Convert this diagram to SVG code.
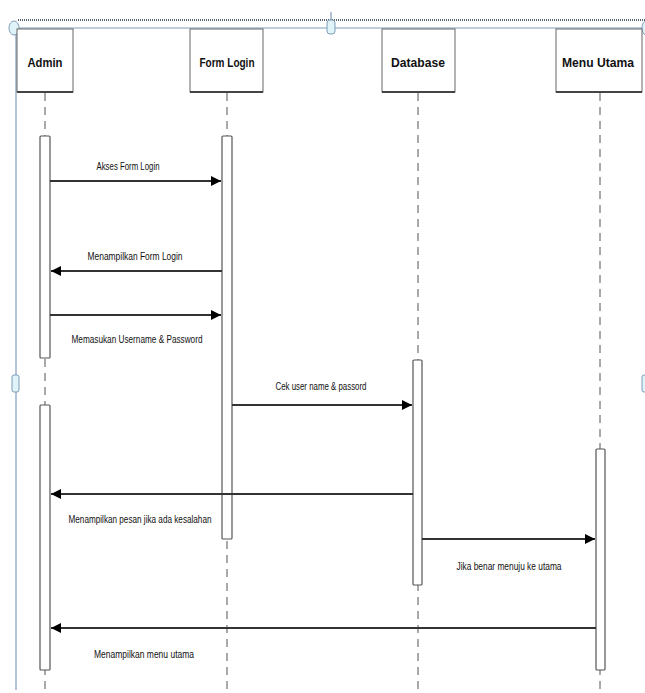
<svg xmlns="http://www.w3.org/2000/svg" width="645" height="693" viewBox="0 0 645 693">
<style>
.hdr{fill:#fff;stroke:#666;stroke-width:1}
.hsh{stroke:#444;stroke-width:2}
.ht{font-family:"Liberation Sans",Arial,sans-serif;font-weight:bold;font-size:13px;fill:#111;text-anchor:middle}
.life{stroke:#555;stroke-width:1;stroke-dasharray:8 6;fill:none}
.act{fill:#fff;stroke:#555;stroke-width:1.2}
.msg{stroke:#333;stroke-width:2;fill:none}
.lbl{font-family:"Liberation Sans",Arial,sans-serif;font-size:10px;fill:#111;text-anchor:middle}
.frame{stroke:#7f9db9;stroke-width:1.2;fill:none}
.handle{fill:#dff3f8;stroke:#7f9db9;stroke-width:1}
</style>
<defs>
<marker id="ah" viewBox="0 0 10 10" refX="10" refY="5" markerWidth="5" markerHeight="5" orient="auto-start-reverse" markerUnits="strokeWidth">
<path d="M0,0 L10,5 L0,10 Z" fill="#000"/>
</marker>
</defs>
<rect width="645" height="693" fill="#fff"/>
<g id="frame">
<line class="frame" x1="16" y1="28" x2="645" y2="28"/>
<line x1="18" y1="20" x2="645" y2="20" stroke="#5a6470" stroke-width="2" stroke-dasharray="1 1"/>
<line class="frame" x1="16" y1="28" x2="16" y2="690"/>
<line class="frame" x1="331" y1="12" x2="331" y2="22"/>
<ellipse class="handle" cx="14" cy="28" rx="5" ry="7"/>
<rect class="handle" x="327" y="20" width="8" height="14" rx="3"/>
<ellipse class="handle" cx="646" cy="28" rx="4" ry="7"/>
<rect class="handle" x="12" y="375" width="7" height="17" rx="2"/>
<rect class="handle" x="642" y="375" width="6" height="17" rx="2"/>
</g>
<g id="admin">
<line class="life" x1="45" y1="93" x2="45" y2="690"/>
<rect class="hdr" x="17" y="29" width="56" height="63"/>
<line class="hsh" x1="17" y1="92" x2="73" y2="92"/>
<text class="ht" x="45" y="67" textLength="35" lengthAdjust="spacingAndGlyphs">Admin</text>
<rect class="act" x="40" y="136" width="10" height="222" rx="1"/>
<rect class="act" x="40" y="405" width="10" height="265" rx="1"/>
</g>
<g id="formlogin">
<line class="life" x1="227" y1="93" x2="227" y2="690"/>
<rect class="hdr" x="190" y="29" width="73" height="63"/>
<line class="hsh" x1="190" y1="92" x2="263" y2="92"/>
<text class="ht" x="227" y="67" textLength="55" lengthAdjust="spacingAndGlyphs">Form Login</text>
<rect class="act" x="222" y="136" width="10" height="403" rx="1"/>
</g>
<g id="database">
<line class="life" x1="418" y1="93" x2="418" y2="690"/>
<rect class="hdr" x="382" y="29" width="73" height="63"/>
<line class="hsh" x1="382" y1="92" x2="455" y2="92"/>
<text class="ht" x="418" y="67" textLength="54" lengthAdjust="spacingAndGlyphs">Database</text>
<rect class="act" x="413" y="360" width="9" height="225" rx="1"/>
</g>
<g id="menuutama">
<line class="life" x1="600" y1="93" x2="600" y2="690"/>
<rect class="hdr" x="556" y="29" width="86" height="63"/>
<line class="hsh" x1="556" y1="92" x2="642" y2="92"/>
<text class="ht" x="598" y="67" textLength="72" lengthAdjust="spacingAndGlyphs">Menu Utama</text>
<rect class="act" x="596" y="449" width="9" height="221" rx="1"/>
</g>
<g id="connectors">
<line class="msg" x1="50" y1="181" x2="221" y2="181" marker-end="url(#ah)"/>
<text class="lbl" x="128" y="170" textLength="63" lengthAdjust="spacingAndGlyphs">Akses Form Login</text>
<line class="msg" x1="222" y1="271" x2="51" y2="271" marker-end="url(#ah)"/>
<text class="lbl" x="135" y="260" textLength="95" lengthAdjust="spacingAndGlyphs">Menampilkan Form Login</text>
<line class="msg" x1="50" y1="315" x2="221" y2="315" marker-end="url(#ah)"/>
<text class="lbl" x="137" y="343" textLength="131" lengthAdjust="spacingAndGlyphs">Memasukan Username &amp; Password</text>
<line class="msg" x1="232" y1="405" x2="412" y2="405" marker-end="url(#ah)"/>
<text class="lbl" x="321" y="390" textLength="91" lengthAdjust="spacingAndGlyphs">Cek user name &amp; passord</text>
<line class="msg" x1="413" y1="494" x2="51" y2="494" marker-end="url(#ah)"/>
<text class="lbl" x="140" y="523" textLength="143" lengthAdjust="spacingAndGlyphs">Menampilkan pesan jika ada kesalahan</text>
<line class="msg" x1="422" y1="539" x2="595" y2="539" marker-end="url(#ah)"/>
<text class="lbl" x="509" y="570" textLength="105" lengthAdjust="spacingAndGlyphs">Jika benar menuju ke utama</text>
<line class="msg" x1="596" y1="628" x2="51" y2="628" marker-end="url(#ah)"/>
<text class="lbl" x="144" y="658" textLength="100" lengthAdjust="spacingAndGlyphs">Menampilkan menu utama</text>
</g>
</svg>
